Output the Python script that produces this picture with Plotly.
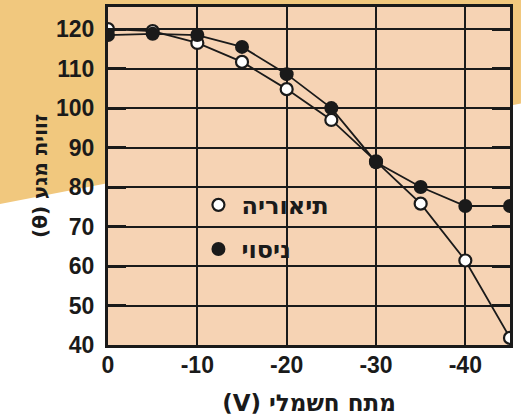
import plotly.graph_objects as go

# Data
voltage = [0, -5, -10, -15, -20, -25, -30, -35, -40, -45]
theory = [120, 119.5, 116.5, 111.7, 104.8, 97, 86.5, 75.8, 61.4, 41.8]
experiment = [118.5, 118.8, 118.5, 115.5, 108.6, 100, 86.3, 80, 75.2, 75.2]

x_ticks = [0, -10, -20, -30, -40]
x_ticktext = ["0", "-10", "-20", "-30", "-40"]
y_ticks = [40, 50, 60, 70, 80, 90, 100, 110, 120]
y_ticktext = [str(v) for v in y_ticks]

name_theory = "תיאוריה"
name_experiment = "ניסוי"
x_title = "\u202Bמתח חשמלי (V)\u202C"
y_title = "\u202Bזווית מגע (θ)\u202C"

FONT = "Liberation Sans, DejaVu Sans, Arial, sans-serif"
HEB = "DejaVu Sans, Liberation Sans, sans-serif"
INK = "#1a1a1a"
PEACH = "#F6D3B4"
TAN = "#F1C87E"
FS = 23

fig = go.Figure()
# connecting lines (not in legend)
fig.add_trace(go.Scatter(x=voltage, y=theory, mode="lines", showlegend=False,
                         line=dict(color=INK, width=1.8), hoverinfo="skip"))
fig.add_trace(go.Scatter(x=voltage, y=experiment, mode="lines", showlegend=False,
                         line=dict(color=INK, width=1.8), hoverinfo="skip"))
# markers
fig.add_trace(go.Scatter(
    x=voltage, y=theory, name=name_theory, mode="markers", legendgroup="a",
    marker=dict(symbol="circle", size=12, color="white",
                line=dict(color=INK, width=2.2)),
))
fig.add_trace(go.Scatter(
    x=voltage, y=experiment, name=name_experiment, mode="markers", legendgroup="b",
    marker=dict(symbol="circle", size=14, color=INK, line=dict(color=INK, width=0)),
))

fig.update_layout(
    width=521, height=419,
    margin=dict(l=108, r=11, t=7, b=74),
    paper_bgcolor="white",
    plot_bgcolor="rgba(0,0,0,0)",
    font=dict(family=FONT, size=FS, color=INK, weight="bold"),
    showlegend=True,
    legend=dict(x=0.2175, y=0.48, xanchor="left", yanchor="top",
                bgcolor="rgba(0,0,0,0)", borderwidth=0,
                tracegroupgap=10, itemwidth=36,
                font=dict(size=24, family=HEB, color=INK, weight="bold")),
    shapes=[
        dict(type="path", xref="paper", yref="paper", layer="below",
             path="M -0.3 1.05 L 1.05 1.05 L 1.05 0.72 L -0.3 0.41 Z",
             fillcolor=TAN, line=dict(width=0)),
        dict(type="rect", xref="paper", yref="paper", layer="below",
             x0=0, x1=1, y0=0, y1=1, fillcolor=PEACH, line=dict(width=0)),
    ],
)

fig.update_xaxes(
    range=[0, -45], tickvals=x_ticks, ticktext=x_ticktext, automargin=False,
    showgrid=True, gridcolor=INK, gridwidth=2,
    showline=True, linecolor=INK, linewidth=3, mirror=True,
    ticks="", zeroline=False, ticklabelstandoff=-3,
    tickfont=dict(size=FS, family=FONT, color=INK, weight="bold"),
    title=dict(text=x_title, standoff=19,
               font=dict(size=23, family=HEB, color=INK, weight="bold")),
)
fig.update_yaxes(
    range=[40, 125.6], tickvals=y_ticks, ticktext=y_ticktext, automargin=False,
    showgrid=True, gridcolor=INK, gridwidth=2,
    showline=True, linecolor=INK, linewidth=3, mirror="ticks",
    ticks="inside", ticklen=18, tickwidth=3, tickcolor=INK,
    zeroline=False, ticklabelstandoff=6,
    tickfont=dict(size=FS, family=FONT, color=INK, weight="bold"),
    title=dict(text=y_title, standoff=4,
               font=dict(size=20, family=HEB, color=INK, weight="bold")),
)

fig.write_html("out.html", config={"displayModeBar": False},
               post_script="document.body.style.margin='0';")
